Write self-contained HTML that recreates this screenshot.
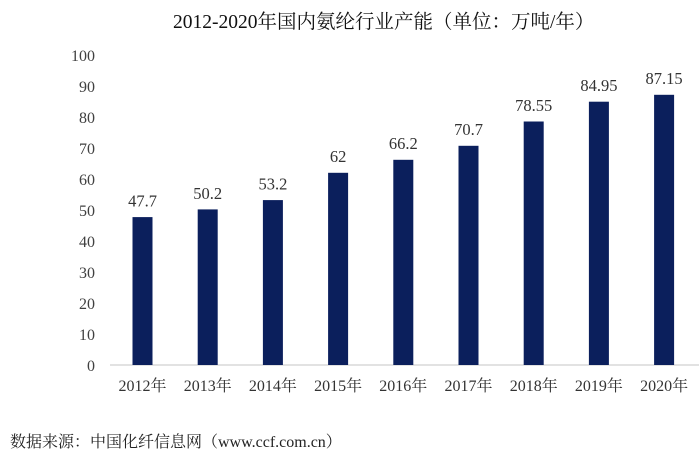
<!DOCTYPE html>
<html>
<head>
<meta charset="utf-8">
<style>
html,body{margin:0;padding:0;background:#fff;}
svg{display:block;}
</style>
</head>
<body>
<svg width="700" height="454" viewBox="0 0 700 454" xmlns="http://www.w3.org/2000/svg">
<rect x="0" y="0" width="700" height="454" fill="#ffffff"/>
<text x="173" y="28" font-family="'Liberation Serif','Noto Serif CJK SC',serif" font-size="19.5" fill="#111">2012-2020年国内氨纶行业产能（单位：万吨/年）</text>
<g font-family="'Liberation Serif','Noto Serif CJK SC',serif" font-size="16" fill="#404040" text-anchor="end">
<text x="95" y="371">0</text>
<text x="95" y="340">10</text>
<text x="95" y="309">20</text>
<text x="95" y="278">30</text>
<text x="95" y="247">40</text>
<text x="95" y="216">50</text>
<text x="95" y="185">60</text>
<text x="95" y="154">70</text>
<text x="95" y="123">80</text>
<text x="95" y="92">90</text>
<text x="95" y="61">100</text>
</g>
<line x1="110" y1="365" x2="699" y2="365" stroke="#d0d0d0" stroke-width="1.2"/>
<g fill="#0b1f5c">
<rect x="132.5" y="217.1" width="20" height="147.9"/>
<rect x="197.7" y="209.4" width="20" height="155.6"/>
<rect x="262.9" y="200.1" width="20" height="164.9"/>
<rect x="328.1" y="172.8" width="20" height="192.2"/>
<rect x="393.3" y="159.8" width="20" height="205.2"/>
<rect x="458.5" y="145.8" width="20" height="219.2"/>
<rect x="523.7" y="121.5" width="20" height="243.5"/>
<rect x="588.9" y="101.7" width="20" height="263.3"/>
<rect x="654.1" y="94.8" width="20" height="270.2"/>
</g>
<g font-family="'Liberation Serif','Noto Serif CJK SC',serif" font-size="16.5" fill="#333" text-anchor="middle">
<text x="142.5" y="206.5">47.7</text>
<text x="207.7" y="198.8">50.2</text>
<text x="272.9" y="189.5">53.2</text>
<text x="338.1" y="162.2">62</text>
<text x="403.3" y="149.2">66.2</text>
<text x="468.5" y="135.2">70.7</text>
<text x="533.7" y="110.9">78.55</text>
<text x="598.9" y="91.1">84.95</text>
<text x="664.1" y="84.2">87.15</text>
</g>
<g font-family="'Liberation Serif','Noto Serif CJK SC',serif" font-size="16" fill="#333" text-anchor="middle">
<text x="142.5" y="391">2012年</text>
<text x="207.7" y="391">2013年</text>
<text x="272.9" y="391">2014年</text>
<text x="338.1" y="391">2015年</text>
<text x="403.3" y="391">2016年</text>
<text x="468.5" y="391">2017年</text>
<text x="533.7" y="391">2018年</text>
<text x="598.9" y="391">2019年</text>
<text x="664.1" y="391">2020年</text>
</g>
<text x="10" y="447" font-family="'Liberation Serif','Noto Serif CJK SC',serif" font-size="16" fill="#222">数据来源：中国化纤信息网（www.ccf.com.cn）</text>
</svg>
</body>
</html>
